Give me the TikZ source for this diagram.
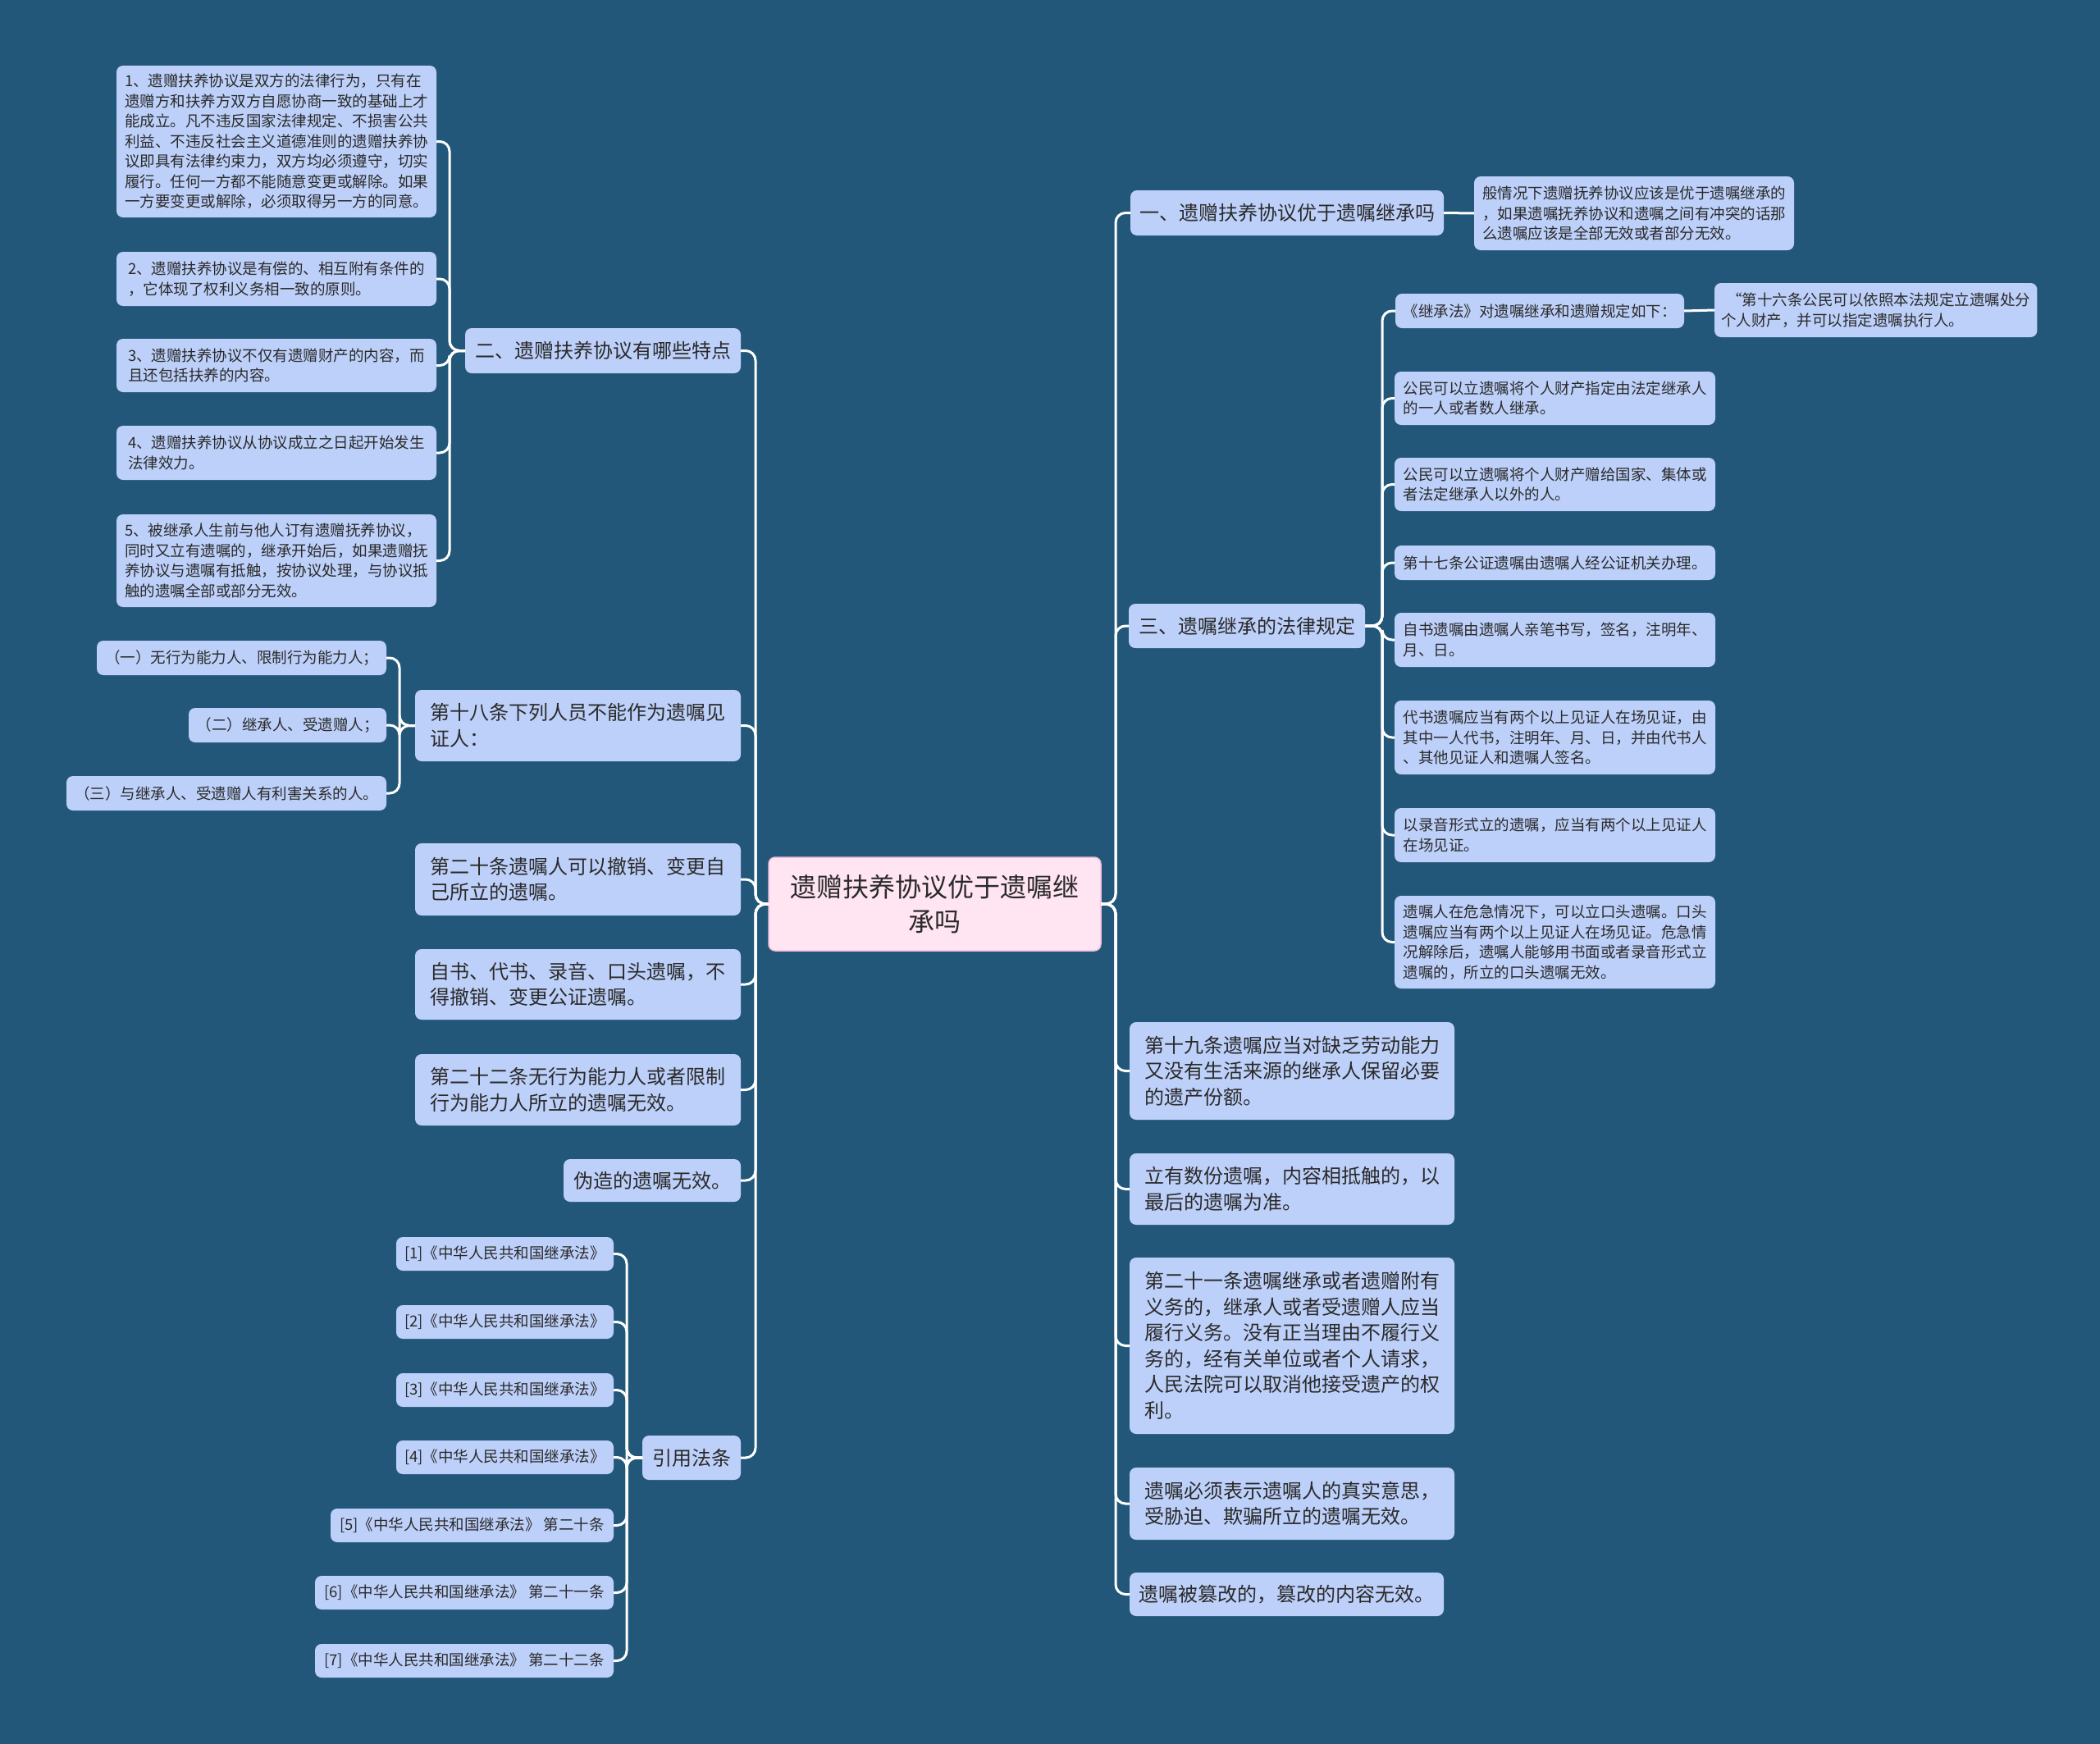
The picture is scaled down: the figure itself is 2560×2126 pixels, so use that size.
\documentclass[tikz,border=0pt]{standalone}
\usepackage{fontspec}
\setmainfont{Noto Sans CJK SC}
\definecolor{bgc}{HTML}{225779}
\definecolor{boxc}{HTML}{BDD0F9}
\definecolor{txtc}{HTML}{2A2A2A}
\definecolor{rootc}{HTML}{FFE4F2}
\definecolor{rootd}{HTML}{F2BCDA}
\newcommand\boxnode[7]{\node[#6, anchor=north west, minimum width={#4-#2}, minimum height={#5-#3}] (#1) at (#2,#3) {#7};}
\tikzset{
  nbox/.style={fill=boxc, rounded corners=8, inner xsep=8, inner ysep=4, align=left, text=txtc, outer sep=0},
  lvone/.style={nbox, font=\fontsize{24}{31.5}\selectfont},
  lvtwo/.style={nbox, font=\fontsize{18.5}{24.5}\selectfont},
  rootbox/.style={fill=rootc, draw=rootd, line width=1.5, rounded corners=8, align=center, text=txtc, outer sep=0, font=\fontsize{32}{42}\selectfont},
  conn/.style={draw=white, line width=3, rounded corners=12}
}
\begin{document}
\begin{tikzpicture}[x=1pt,y=-1pt]
\fill[bgc] (0,0) rectangle (2560,2126);
\useasboundingbox (0,0) rectangle (2560,2126);

% root
\boxnode{root}{937}{1045}{1342}{1159}{rootbox}{遗赠扶养协议优于遗嘱继\\承吗}

% right side
\boxnode{R1}{1378}{232}{1760}{287}{lvone}{一、遗赠扶养协议优于遗嘱继承吗}
\boxnode{R1a}{1797}{215}{2187}{305}{lvtwo}{般情况下遗赠抚养协议应该是优于遗嘱继承的\\，如果遗嘱抚养协议和遗嘱之间有冲突的话那\\么遗嘱应该是全部无效或者部分无效。}
\boxnode{R3}{1376}{736}{1664}{790}{lvone}{三、遗嘱继承的法律规定}
\boxnode{c1}{1701}{358}{2053}{400}{lvtwo}{《继承法》对遗嘱继承和遗赠规定如下：}
\boxnode{c1a}{2090}{345}{2480}{411}{lvtwo}{\hspace{0.4em}“第十六条公民可以依照本法规定立遗嘱处分\\个人财产，并可以指定遗嘱执行人。}
\boxnode{c2}{1700}{453}{2091}{518}{lvtwo}{公民可以立遗嘱将个人财产指定由法定继承人\\的一人或者数人继承。}
\boxnode{c3}{1700}{558}{2091}{623}{lvtwo}{公民可以立遗嘱将个人财产赠给国家、集体或\\者法定继承人以外的人。}
\boxnode{c4}{1700}{665}{2091}{707}{lvtwo}{第十七条公证遗嘱由遗嘱人经公证机关办理。}
\boxnode{c5}{1700}{747}{2091}{813}{lvtwo}{自书遗嘱由遗嘱人亲笔书写，签名，注明年、\\月、日。}
\boxnode{c6}{1700}{854}{2091}{944}{lvtwo}{代书遗嘱应当有两个以上见证人在场见证，由\\其中一人代书，注明年、月、日，并由代书人\\、其他见证人和遗嘱人签名。}
\boxnode{c7}{1700}{985}{2091}{1051}{lvtwo}{以录音形式立的遗嘱，应当有两个以上见证人\\在场见证。}
\boxnode{c8}{1700}{1092}{2091}{1205}{lvtwo}{遗嘱人在危急情况下，可以立口头遗嘱。口头\\遗嘱应当有两个以上见证人在场见证。危急情\\况解除后，遗嘱人能够用书面或者录音形式立\\遗嘱的，所立的口头遗嘱无效。}
\boxnode{R4}{1377}{1246}{1773}{1365}{lvone}{第十九条遗嘱应当对缺乏劳动能力\\又没有生活来源的继承人保留必要\\的遗产份额。}
\boxnode{R5}{1377}{1406}{1773}{1493}{lvone}{立有数份遗嘱，内容相抵触的，以\\最后的遗嘱为准。}
\boxnode{R6}{1377}{1533}{1773}{1748}{lvone}{第二十一条遗嘱继承或者遗赠附有\\义务的，继承人或者受遗赠人应当\\履行义务。没有正当理由不履行义\\务的，经有关单位或者个人请求，\\人民法院可以取消他接受遗产的权\\利。}
\boxnode{R7}{1377}{1789}{1773}{1877}{lvone}{遗嘱必须表示遗嘱人的真实意思，\\受胁迫、欺骗所立的遗嘱无效。}
\boxnode{R8}{1377}{1917}{1760}{1970}{lvone}{遗嘱被篡改的，篡改的内容无效。}

% left side
\boxnode{L1}{567}{400}{903}{455}{lvone}{二、遗赠扶养协议有哪些特点}
\boxnode{a1}{142}{80}{532}{265}{lvtwo}{1、遗赠扶养协议是双方的法律行为，只有在\\遗赠方和扶养方双方自愿协商一致的基础上才\\能成立。凡不违反国家法律规定、不损害公共\\利益、不违反社会主义道德准则的遗赠扶养协\\议即具有法律约束力，双方均必须遵守，切实\\履行。任何一方都不能随意变更或解除。如果\\一方要变更或解除，必须取得另一方的同意。}
\boxnode{a2}{142}{307}{532}{373}{lvtwo}{2、遗赠扶养协议是有偿的、相互附有条件的\\，它体现了权利义务相一致的原则。}
\boxnode{a3}{142}{413}{532}{478}{lvtwo}{3、遗赠扶养协议不仅有遗赠财产的内容，而\\且还包括扶养的内容。}
\boxnode{a4}{142}{519}{532}{585}{lvtwo}{4、遗赠扶养协议从协议成立之日起开始发生\\法律效力。}
\boxnode{a5}{142}{627}{532}{740}{lvtwo}{5、被继承人生前与他人订有遗赠抚养协议，\\同时又立有遗嘱的，继承开始后，如果遗赠抚\\养协议与遗嘱有抵触，按协议处理，与协议抵\\触的遗嘱全部或部分无效。}
\boxnode{L2}{506}{841}{903}{928}{lvone}{第十八条下列人员不能作为遗嘱见\\证人：}
\boxnode{b1}{118}{781}{471}{823}{lvtwo}{（一）无行为能力人、限制行为能力人；}
\boxnode{b2}{230}{863}{471}{905}{lvtwo}{（二）继承人、受遗赠人；}
\boxnode{b3}{81}{946}{471}{988}{lvtwo}{（三）与继承人、受遗赠人有利害关系的人。}
\boxnode{L3}{506}{1028}{903}{1116}{lvone}{第二十条遗嘱人可以撤销、变更自\\己所立的遗嘱。}
\boxnode{L4}{506}{1157}{903}{1243}{lvone}{自书、代书、录音、口头遗嘱，不\\得撤销、变更公证遗嘱。}
\boxnode{L5}{506}{1285}{903}{1372}{lvone}{第二十二条无行为能力人或者限制\\行为能力人所立的遗嘱无效。}
\boxnode{L6}{687}{1413}{903}{1465}{lvone}{伪造的遗嘱无效。}
\boxnode{L7}{783}{1750}{903}{1804}{lvone}{引用法条}
\boxnode{d1}{483}{1508}{748}{1549}{lvtwo}{[1]《中华人民共和国继承法》}
\boxnode{d2}{483}{1591}{748}{1632}{lvtwo}{[2]《中华人民共和国继承法》}
\boxnode{d3}{483}{1674}{748}{1715}{lvtwo}{[3]《中华人民共和国继承法》}
\boxnode{d4}{483}{1756}{748}{1797}{lvtwo}{[4]《中华人民共和国继承法》}
\boxnode{d5}{403}{1839}{748}{1880}{lvtwo}{[5]《中华人民共和国继承法》 第二十条}
\boxnode{d6}{384}{1921}{748}{1962}{lvtwo}{[6]《中华人民共和国继承法》 第二十一条}
\boxnode{d7}{384}{2004}{748}{2045}{lvtwo}{[7]《中华人民共和国继承法》 第二十二条}

% connectors
\coordinate (rsp) at (1360,0);
\coordinate (r3sp) at (1685,0);
\coordinate (lsp) at (921,0);
\coordinate (l1sp) at (548,0);
\coordinate (l2sp) at (487,0);
\coordinate (l7sp) at (764,0);
\foreach \c in {R1,R3,R4,R5,R6,R7,R8}
  \draw[conn] (root.east) -- (rsp |- root.east) |- (\c.west);
\foreach \c in {L1,L2,L3,L4,L5,L6,L7}
  \draw[conn] (root.west) -- (lsp |- root.west) |- (\c.east);
\draw[conn] (R1.east) -- (R1a.west);
\draw[conn] (c1.east) -- (c1a.west);
\foreach \c in {c1,c2,c3,c4,c5,c6,c7,c8}
  \draw[conn] (R3.east) -- (r3sp |- R3.east) |- (\c.west);
\foreach \c in {a1,a2,a3,a4,a5}
  \draw[conn] (L1.west) -- (l1sp |- L1.west) |- (\c.east);
\foreach \c in {b1,b2,b3}
  \draw[conn] (L2.west) -- (l2sp |- L2.west) |- (\c.east);
\foreach \c in {d1,d2,d3,d4,d5,d6,d7}
  \draw[conn] (L7.west) -- (l7sp |- L7.west) |- (\c.east);
\end{tikzpicture}
\end{document}
